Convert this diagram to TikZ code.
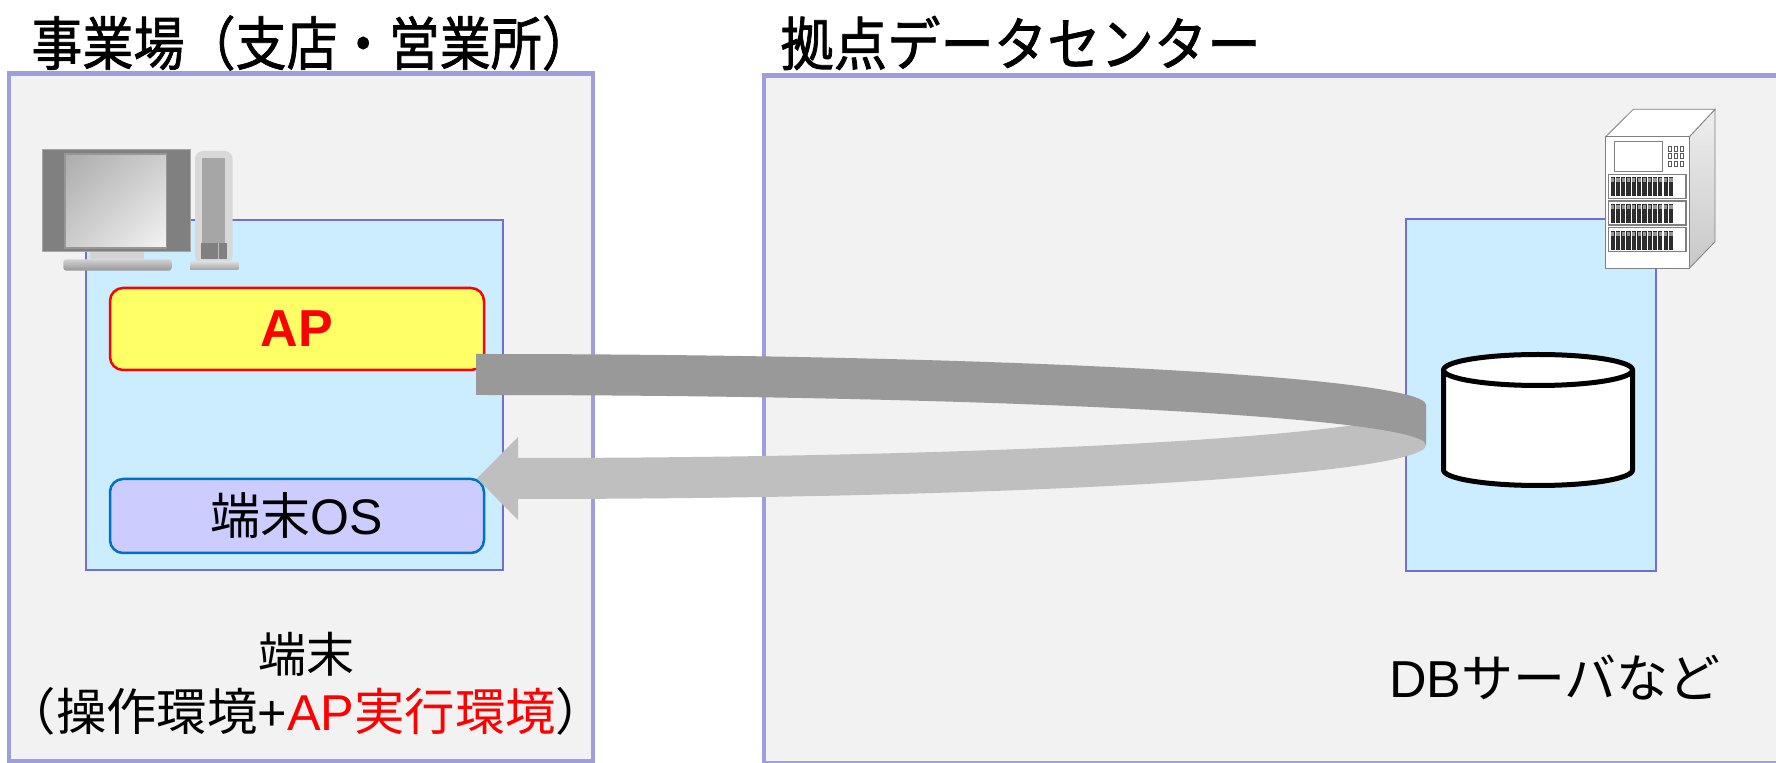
\documentclass[tikz,border=0pt]{standalone}
\usepackage{fontspec}
\usetikzlibrary{shadings}
\setmainfont{Noto Sans CJK JP}
\newfontfamily\latin{Liberation Sans}
\newfontfamily\headfont[FakeBold=1.3]{Noto Sans CJK JP}

\definecolor{panelfill}{RGB}{242,242,242}
\definecolor{panelline}{RGB}{158,158,222}
\definecolor{innerfill}{RGB}{204,236,255}
\definecolor{innerline}{RGB}{112,112,210}
\definecolor{apfill}{RGB}{255,255,102}
\definecolor{osfill}{RGB}{204,204,255}
\definecolor{osline}{RGB}{0,112,192}
\definecolor{bandfront}{RGB}{153,153,153}
\definecolor{bandback}{RGB}{191,191,191}
\definecolor{g45}{RGB}{45,45,45}
\definecolor{g90}{RGB}{90,90,90}
\definecolor{g128}{RGB}{128,128,128}
\definecolor{g150}{RGB}{150,150,150}
\definecolor{g166}{RGB}{166,166,166}
\definecolor{g168}{RGB}{168,168,168}
\definecolor{g172}{RGB}{172,172,172}
\definecolor{g190}{RGB}{190,190,190}
\definecolor{g200}{RGB}{200,200,200}
\definecolor{g205}{RGB}{205,205,205}
\definecolor{g210}{RGB}{210,210,210}
\definecolor{g212}{RGB}{212,212,212}
\definecolor{g216}{RGB}{216,216,216}
\definecolor{g218}{RGB}{218,218,218}
\definecolor{g238}{RGB}{238,238,238}
\definecolor{g244}{RGB}{244,244,244}

\tikzset{
  panel/.style={draw=panelline, fill=panelfill, line width=2.25pt, inner sep=0pt},
  innerbox/.style={draw=innerline, fill=innerfill, line width=1pt, inner sep=0pt},
  layerbox/.style={rounded corners=6.5pt, line width=1.25pt, inner sep=0pt,
                   minimum width=187pt},
  title/.style={font=\headfont\fontsize{29pt}{32pt}\selectfont, anchor=west, inner sep=0pt},
  label/.style={font=\fontsize{24pt}{30pt}\selectfont, inner sep=0pt, align=center},
  dev/.style={draw=g128, line width=0.4pt},
}

\begin{document}
\begin{tikzpicture}[x=0.5pt, y=-0.5pt]
\useasboundingbox (0,0) rectangle (1776,763);
\fill[white] (0,0) rectangle (1776,763);

% ---- the two sites ----
\node[panel, minimum width=292pt, minimum height=343.75pt] (site) at (301,417.25) {};
\node[panel, minimum width=520pt, minimum height=343.75pt, anchor=north west] (dc) at (761.5,73.5) {};

\node[title] (sitetitle) at (31,43) {\scalebox{0.88}[1]{事業場（支店・営業所）}};
\node[title] (dctitle) at (780,43) {\scalebox{0.92}[1]{拠点データセンター}};

% ---- terminal ----
\node[innerbox, minimum width=208.5pt, minimum height=175pt] (term) at (294.5,395) {};
\node[layerbox, draw=red, fill=apfill, minimum height=41pt] (ap) at (297,329)
  {\latin\bfseries\fontsize{26pt}{30pt}\selectfont\color{red}AP};
\node[layerbox, draw=osline, fill=osfill, minimum height=37pt] (os) at (297,516)
  {\fontsize{25pt}{30pt}\selectfont 端末{\latin OS}};

\node[label] (termname) at (306,654) {端末};
\node[label, font=\fontsize{25.2pt}{30pt}\selectfont] (termrole) at (306,711)
  {（操作環境{\latin +}\textcolor{red}{{\latin AP}実行環境}）};

% ---- DB server ----
\node[innerbox, minimum width=125pt, minimum height=176pt] (srv) at (1531,395) {};
\node[label, font=\fontsize{26pt}{30pt}\selectfont] (dbname) at (1555,678) {{\latin DB}サーバなど};

% database cylinder
\node[inner sep=0pt, minimum width=94.5pt, minimum height=58pt] (db) at (1538,420) {};
\fill[white] (1443.5,370) -- (1443.5,470)
  arc[start angle=180, end angle=0, x radius=94.5, y radius=15.5]
  -- (1632.5,370)
  arc[start angle=360, end angle=180, x radius=94.5, y radius=15.5] -- cycle;
\draw[line width=2.5pt] (1443.5,370) -- (1443.5,470)
  arc[start angle=180, end angle=0, x radius=94.5, y radius=15.5] -- (1632.5,370);
\draw[line width=2.5pt] (1538,370) ellipse[x radius=94.5, y radius=15.5];

% ---- request / reply ribbon arrow ----
\coordinate (reqstart) at (476,354);
\coordinate (turn) at (1426,405);
\coordinate (tip) at (477,478.5);
% returning half (drawn first, passes behind)
\fill[bandback] (1426,445)
  .. controls (1426,474.8) and (1019.5,499) .. (518,499)
  -- (518,520) -- (tip) -- (518,437) -- (518,458)
  .. controls (1019.5,458) and (1426,433.8) .. (1426,404) -- cycle;
% outgoing half
\fill[bandfront] (reqstart)
  .. controls (1000.7,354) and (1426,376.8) .. (turn)
  -- (1426,445)
  .. controls (1426,417.4) and (1000.7,395) .. (476,395) -- cycle;

% ---- desktop computer ----
\filldraw[fill=g128, draw=g166, line width=0.5pt] (42.3,150) rectangle (190,251.7);
\shade[upper left=g172, upper right=g205, lower left=g205, lower right=g244]
  (65,154) rectangle (166.7,248);
\draw[g150, line width=0.6pt] (65,154) rectangle (166.7,248);
\fill[g212] (90,252) rectangle (144,259.5);
\shade[top color=g210, bottom color=g150, rounded corners=1.5pt]
  (63.3,259.3) rectangle (171.7,270.7);
\fill[g216, rounded corners=4pt] (195,151) rectangle (232.7,263.3);
\fill[g166] (201.7,158.3) rectangle (225,242.7);
\fill[g128] (201,242.7) rectangle (226.7,258.7);
\draw[g190, line width=0.6pt] (218.3,242.7) -- (218.3,258.7);
\shade[top color=g218, bottom color=g168] (190,262) rectangle (238.3,269.3);

% ---- rack server ----
\shade[top color=g238, bottom color=g200]
  (1689.3,136.7) -- (1715,109.3) -- (1715,241.7) -- (1689.3,268.3) -- cycle;
\draw[dev] (1689.3,136.7) -- (1715,109.3) -- (1715,241.7) -- (1689.3,268.3) -- cycle;
\filldraw[dev, fill=white] (1605.7,136.7) -- (1633.3,109.3) -- (1715,109.3) -- (1689.3,136.7) -- cycle;
\filldraw[dev, fill=white] (1605.7,136.7) rectangle (1689.3,268.3);
\filldraw[dev, fill=white] (1614,141.7) rectangle (1662.3,171);
% control buttons
\foreach \yy in {146,153.5,161}{
  \foreach \xx in {1668,1674,1680}{
    \draw[g90, line width=0.4pt] (\xx,\yy) rectangle ++(3.6,5);
  }
}
% drive bays
\foreach \t in {174.3,201,227.7}{
  \draw[dev, line width=0.6pt] (1608.3,\t) rectangle (1686,\t+24);
  \foreach \i in {0,...,11}{
    \fill[g45] (1610.5+\i*5.3,\t+3) rectangle ++(4.2,19);
    \fill[g150] (1611+\i*5.3,\t+4) rectangle ++(3.2,4);
  }
}
\end{tikzpicture}
\end{document}
